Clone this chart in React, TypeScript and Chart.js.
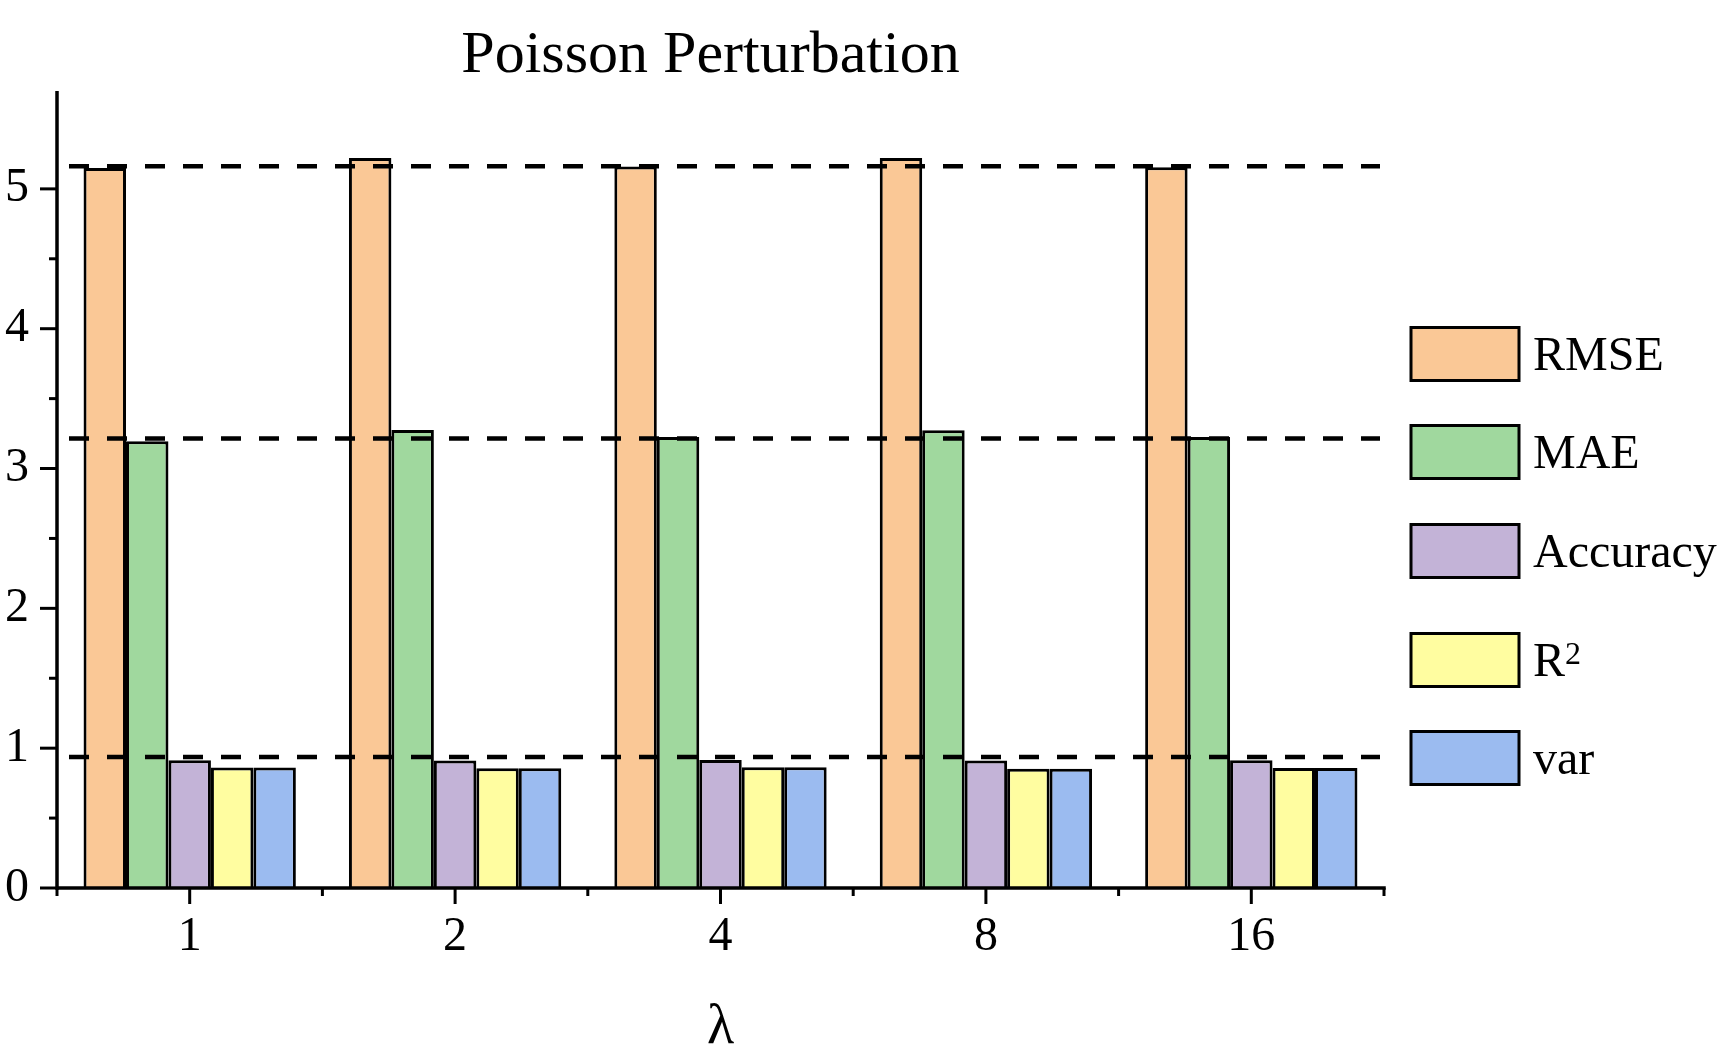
import { useEffect, useRef } from 'react';
import { Chart, registerables } from 'chart.js';

Chart.register(...registerables);

// lambda values on the x axis
const LAMBDAS = ['1', '2', '4', '8', '16'];

// metric values per lambda
const RMSE = [5.15, 5.22, 5.16, 5.22, 5.155];
const MAE = [3.195, 3.275, 3.226, 3.273, 3.226];
const ACCURACY = [0.913, 0.911, 0.916, 0.911, 0.913];
const R2 = [0.862, 0.857, 0.863, 0.853, 0.858];
const VAR = [0.862, 0.857, 0.863, 0.853, 0.858];

// dashed reference levels
const REF_LINES = [5.162, 3.214, 0.937];

const SERIES_NAMES = ['RMSE', 'MAE', 'Accuracy', 'R^2', 'var'];
const SERIES_COLORS = ['#FAC896', '#A0D89E', '#C3B3D7', '#FFFDA0', '#9BBBF0'];

const Y_MAX = 5.7;
const FONT = '"Liberation Serif", "Times New Roman", serif';

// legend row centres (px)
const LEGEND_Y = [354, 452, 551, 660, 758];

const decorPlugin = {
  id: 'decor',
  afterDraw(chart: any) {
    const { ctx, chartArea } = chart;
    const { left, right, top, bottom } = chartArea;
    const xS = chart.scales.x;
    const yS = chart.scales.y;

    ctx.save();

    // dashed reference lines, over the bars
    ctx.strokeStyle = '#000';
    ctx.lineWidth = 4.5;
    ctx.setLineDash([20, 18]);
    REF_LINES.forEach((v) => {
      const py = yS.getPixelForValue(v);
      ctx.beginPath();
      ctx.moveTo(left + 12, py);
      ctx.lineTo(right - 4, py);
      ctx.stroke();
    });
    ctx.setLineDash([]);

    // axes
    ctx.lineWidth = 3.5;
    ctx.beginPath();
    ctx.moveTo(left, top);
    ctx.lineTo(left, bottom + 1.75);
    ctx.stroke();
    ctx.beginPath();
    ctx.moveTo(left, bottom);
    ctx.lineTo(right + 1.75, bottom);
    ctx.stroke();

    // y ticks, major + minor
    ctx.lineWidth = 3;
    for (let i = 0; i <= 10; i++) {
      const v = i * 0.5;
      const py = yS.getPixelForValue(v);
      const len = i % 2 === 0 ? 17 : 8;
      ctx.beginPath();
      ctx.moveTo(left - len, py);
      ctx.lineTo(left, py);
      ctx.stroke();
    }

    // x ticks
    const half = (xS.getPixelForTick(1) - xS.getPixelForTick(0)) / 2;
    LAMBDAS.forEach((_, i) => {
      const cx = xS.getPixelForTick(i);
      ctx.beginPath();
      ctx.moveTo(cx, bottom);
      ctx.lineTo(cx, bottom + 16);
      ctx.stroke();
      ctx.beginPath();
      ctx.moveTo(cx - half, bottom);
      ctx.lineTo(cx - half, bottom + 8);
      ctx.stroke();
      if (i === LAMBDAS.length - 1) {
        ctx.beginPath();
        ctx.moveTo(cx + half, bottom);
        ctx.lineTo(cx + half, bottom + 8);
        ctx.stroke();
      }
    });

    // title
    ctx.fillStyle = '#000';
    ctx.font = `60px ${FONT}`;
    ctx.textAlign = 'center';
    ctx.textBaseline = 'alphabetic';
    ctx.fillText('Poisson Perturbation', (left + right) / 2 - 10, 72);

    // legend
    const bx = 1411;
    const bw = 108;
    const bh = 53;
    ctx.textAlign = 'left';
    SERIES_NAMES.forEach((name, i) => {
      const cy = LEGEND_Y[i];
      ctx.fillStyle = SERIES_COLORS[i];
      ctx.fillRect(bx, cy - bh / 2, bw, bh);
      ctx.lineWidth = 3;
      ctx.strokeStyle = '#000';
      ctx.strokeRect(bx, cy - bh / 2, bw, bh);
      ctx.fillStyle = '#000';
      const [base, sup] = name.split('^');
      ctx.font = `48px ${FONT}`;
      const tx = 1533;
      const ty = cy + 16;
      ctx.fillText(base, tx, ty);
      if (sup) {
        const w = ctx.measureText(base).width;
        ctx.font = `32px ${FONT}`;
        ctx.fillText(sup, tx + w, ty - 12);
      }
    });

    ctx.restore();
  },
};

export default function App() {
  const canvasRef = useRef<HTMLCanvasElement | null>(null);
  const chartRef = useRef<Chart | null>(null);

  useEffect(() => {
    if (!canvasRef.current) return;
    if (chartRef.current) chartRef.current.destroy();

    const series = [RMSE, MAE, ACCURACY, R2, VAR];

    chartRef.current = new Chart(canvasRef.current, {
      type: 'bar',
      data: {
        labels: LAMBDAS,
        datasets: series.map((data, i) => ({
          label: SERIES_NAMES[i],
          data,
          backgroundColor: SERIES_COLORS[i],
          borderColor: '#000',
          borderWidth: 3,
          borderSkipped: 'start',
          categoryPercentage: 0.8,
          barPercentage: 1.0,
        })),
      },
      options: {
        responsive: false,
        animation: false,
        layout: { padding: { top: 91, right: 338, left: 0, bottom: 0 } },
        scales: {
          x: {
            grid: { display: false, drawTicks: false },
            border: { display: false },
            ticks: {
              color: '#000',
              padding: 21,
              font: { family: FONT, size: 48 },
            },
            title: {
              display: true,
              text: 'λ',
              color: '#000',
              font: { family: FONT, size: 56 },
              padding: { top: 0, bottom: 2 },
            },
            afterFit: (s: any) => {
              s.height = 176;
            },
          },
          y: {
            min: 0,
            max: Y_MAX,
            grid: { display: false, drawTicks: false },
            border: { display: false },
            ticks: {
              stepSize: 1,
              includeBounds: false,
              color: '#000',
              padding: 28,
              font: { family: FONT, size: 48 },
            },
            afterFit: (s: any) => {
              s.width = 57;
            },
          },
        },
        plugins: {
          legend: { display: false },
          title: { display: false },
          tooltip: { enabled: false },
        },
      },
      plugins: [decorPlugin],
    });

    return () => {
      if (chartRef.current) {
        chartRef.current.destroy();
        chartRef.current = null;
      }
    };
  }, []);

  return (
    <div style={{ position: 'fixed', left: 0, top: 0, width: 1722, height: 1064, background: '#fff' }}>
      <canvas ref={canvasRef} width={1722} height={1064} style={{ width: 1722, height: 1064 }} />
    </div>
  );
}
